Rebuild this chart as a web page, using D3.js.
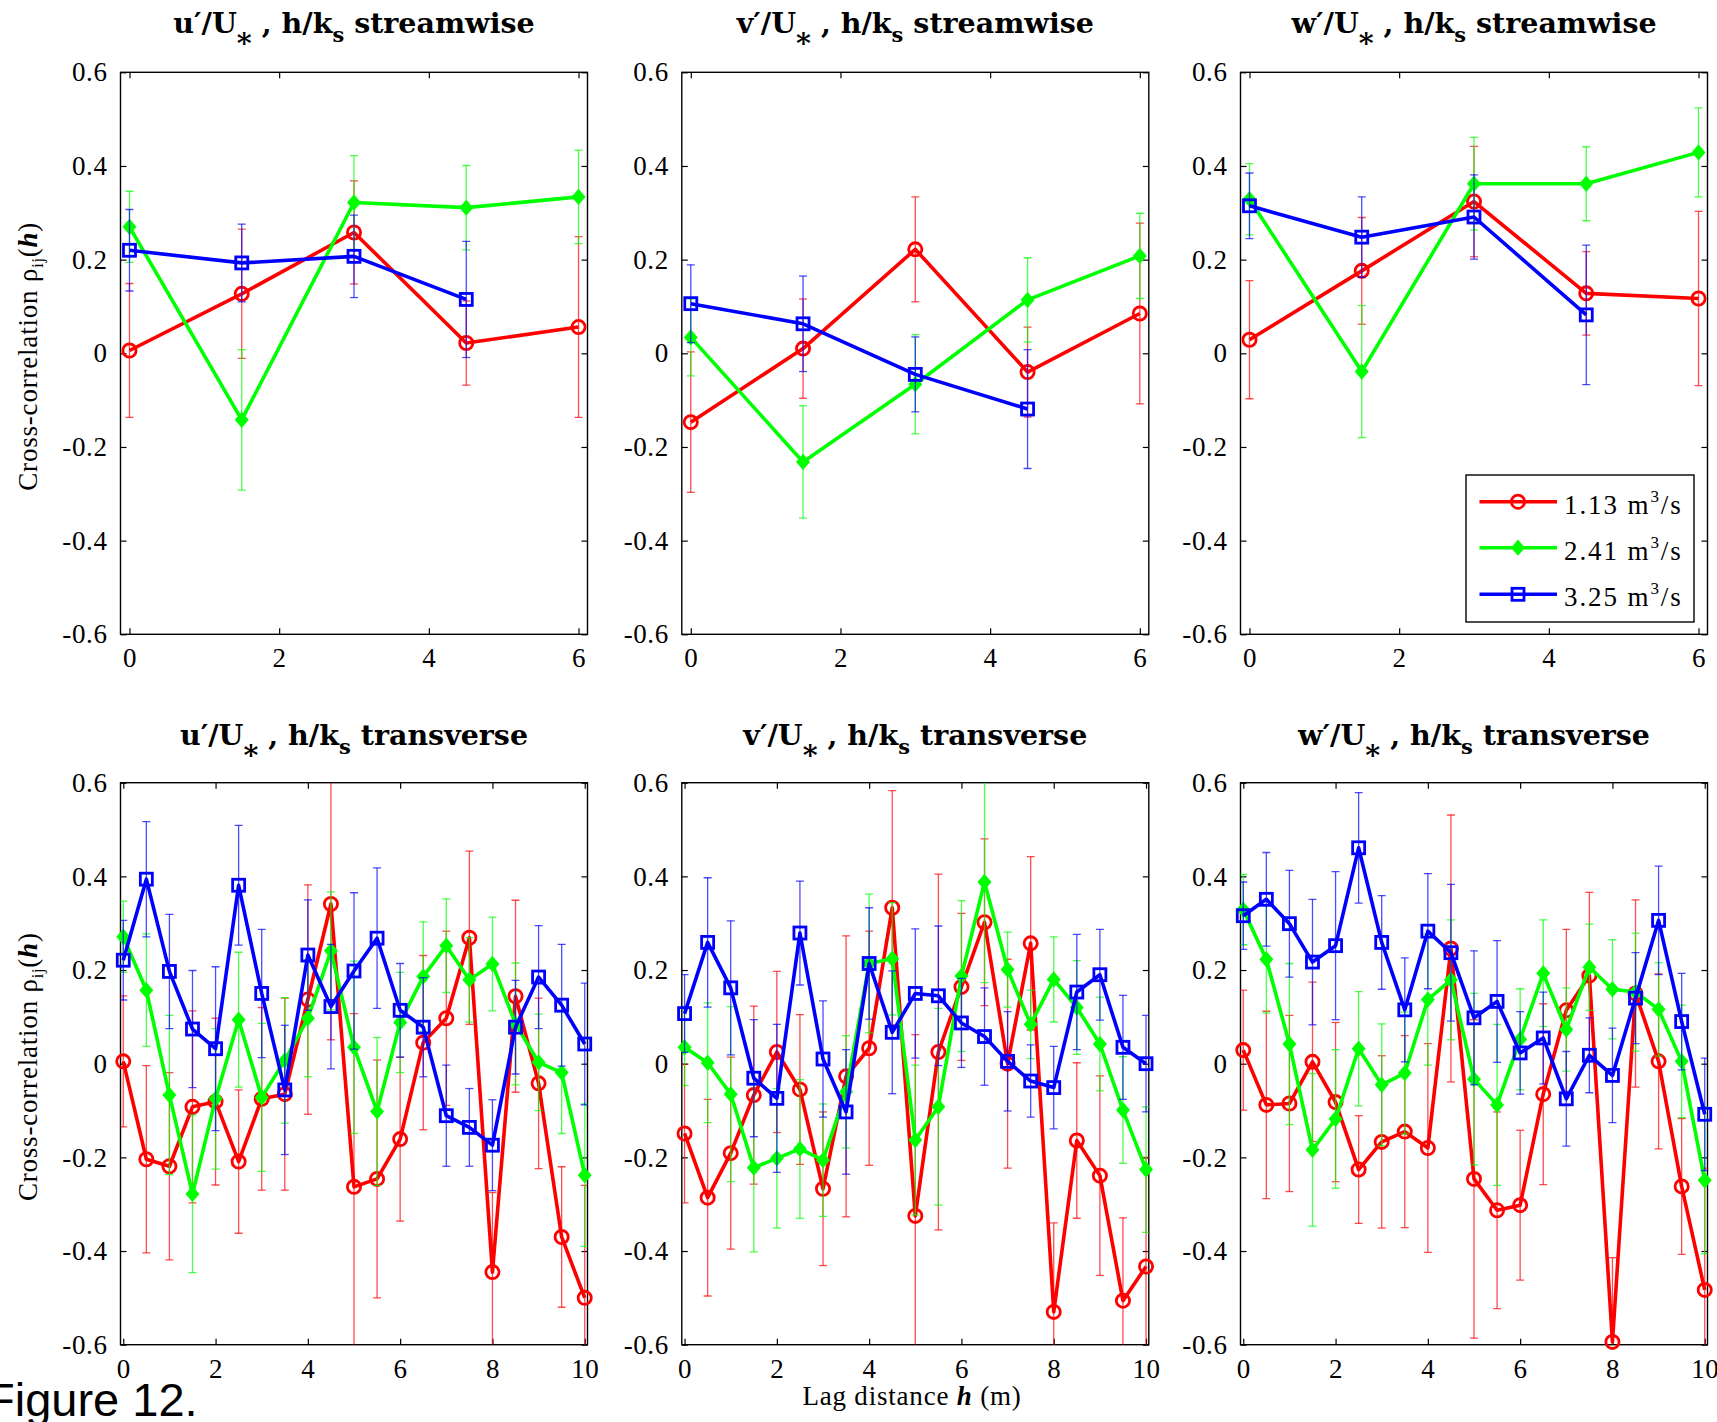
<!DOCTYPE html>
<html><head><meta charset="utf-8">
<script src="https://cdn.jsdelivr.net/npm/d3@7"></script>
<style>body{margin:0;background:#fff;} svg{display:block;}</style>
</head><body>
<svg id="chart" width="1717" height="1422"></svg>
<script>
// ---------------- DATA ----------------
const seriesNames = ["1.13", "2.41", "3.25"];
const seriesColors = ["#ff0000", "#00ff00", "#0000ff"];
const seriesMarkers = ["circle", "diamond", "square"];
const components = ["u", "v", "w"];
const directions = ["streamwise", "transverse"];

const xStream = [0, 1.5, 3, 4.5, 6];
const xTrans = [0, 0.5, 1, 1.5, 2, 2.5, 3, 3.5, 4, 4.5, 5, 5.5, 6, 6.5, 7, 7.5, 8, 8.5, 9, 9.5, 10];
const yTickValues = [-0.6, -0.4, -0.2, 0, 0.2, 0.4, 0.6];
const yTickLabels = ["-0.6", "-0.4", "-0.2", "0", "0.2", "0.4", "0.6"];
const xTicksStream = [0, 2, 4, 6];
const xTicksTrans = [0, 2, 4, 6, 8, 10];

// u' streamwise
const uStreamRed = [0.006, 0.127, 0.258, 0.022, 0.056];
const uStreamRedErr = [0.143, 0.138, 0.11, 0.09, 0.193];
const uStreamGreen = [0.270, -0.142, 0.322, 0.311, 0.334];
const uStreamGreenErr = [0.076, 0.15, 0.10, 0.09, 0.10];
const uStreamBlue = [0.220, 0.193, 0.207, 0.115];
const uStreamBlueErr = [0.087, 0.083, 0.088, 0.124];

// v' streamwise
const vStreamRed = [-0.147, 0.010, 0.222, -0.040, 0.085];
const vStreamRedErr = [0.15, 0.106, 0.112, 0.096, 0.193];
const vStreamGreen = [0.034, -0.232, -0.066, 0.114, 0.208];
const vStreamGreenErr = [0.082, 0.12, 0.106, 0.09, 0.091];
const vStreamBlue = [0.106, 0.063, -0.045, -0.119];
const vStreamBlueErr = [0.083, 0.102, 0.08, 0.127];

// w' streamwise
const wStreamRed = [0.029, 0.176, 0.324, 0.128, 0.117];
const wStreamRedErr = [0.126, 0.114, 0.118, 0.089, 0.186];
const wStreamGreen = [0.329, -0.039, 0.362, 0.362, 0.429];
const wStreamGreenErr = [0.076, 0.141, 0.099, 0.079, 0.095];
const wStreamBlue = [0.315, 0.248, 0.291, 0.082];
const wStreamBlueErr = [0.07, 0.086, 0.09, 0.149];

// u' transverse
const uTransRed = [0.005, -0.204, -0.219, -0.092, -0.081, -0.209, -0.075, -0.065, 0.137, 0.341, -0.263, -0.246, -0.161, 0.045, 0.097, 0.269, -0.445, 0.144, -0.042, -0.370, -0.500];
const uTransRedErr = [0.14, 0.2, 0.2, 0.205, 0.178, 0.153, 0.195, 0.205, 0.245, 0.29, 0.37, 0.254, 0.175, 0.186, 0.186, 0.185, 0.17, 0.205, 0.182, 0.15, 0.24];
const uTransGreen = [0.271, 0.157, -0.067, -0.278, -0.075, 0.094, -0.072, 0.007, 0.097, 0.241, 0.035, -0.102, 0.088, 0.186, 0.252, 0.179, 0.213, 0.085, 0.003, -0.019, -0.238];
const uTransGreenErr = [0.076, 0.12, 0.17, 0.168, 0.15, 0.144, 0.158, 0.134, 0.125, 0.126, 0.184, 0.158, 0.107, 0.117, 0.1, 0.09, 0.1, 0.13, 0.103, 0.13, 0.152];
const uTransBlue = [0.221, 0.394, 0.197, 0.074, 0.032, 0.381, 0.150, -0.056, 0.232, 0.122, 0.198, 0.268, 0.114, 0.078, -0.111, -0.136, -0.174, 0.078, 0.185, 0.125, 0.042];
const uTransBlueErr = [0.085, 0.123, 0.122, 0.125, 0.175, 0.128, 0.137, 0.138, 0.118, 0.133, 0.167, 0.15, 0.1, 0.106, 0.108, 0.083, 0.097, 0.10, 0.11, 0.13, 0.13];

// v' transverse
const vTransRed = [-0.149, -0.286, -0.191, -0.067, 0.025, -0.055, -0.267, -0.027, 0.033, 0.333, -0.325, 0.025, 0.164, 0.302, 0.0, 0.257, -0.530, -0.164, -0.239, -0.506, -0.433];
const vTransRedErr = [0.148, 0.21, 0.205, 0.19, 0.172, 0.16, 0.164, 0.3, 0.25, 0.25, 0.387, 0.38, 0.157, 0.178, 0.223, 0.185, 0.19, 0.166, 0.213, 0.177, 0.233];
const vTransGreen = [0.035, 0.002, -0.065, -0.222, -0.202, -0.182, -0.206, -0.060, 0.214, 0.224, -0.163, -0.092, 0.187, 0.388, 0.201, 0.084, 0.180, 0.120, 0.042, -0.099, -0.226];
const vTransGreenErr = [0.082, 0.128, 0.187, 0.18, 0.149, 0.148, 0.12, 0.12, 0.148, 0.12, 0.16, 0.21, 0.161, 0.215, 0.08, 0.073, 0.091, 0.1, 0.1, 0.114, 0.134];
const vTransBlue = [0.107, 0.259, 0.162, -0.031, -0.074, 0.279, 0.010, -0.103, 0.214, 0.067, 0.150, 0.145, 0.087, 0.058, 0.005, -0.037, -0.051, 0.153, 0.190, 0.035, 0.0];
const vTransBlueErr = [0.083, 0.138, 0.143, 0.125, 0.158, 0.111, 0.124, 0.133, 0.119, 0.131, 0.138, 0.149, 0.095, 0.104, 0.106, 0.077, 0.088, 0.123, 0.097, 0.111, 0.103];

// w' transverse
const wTransRed = [0.029, -0.088, -0.085, 0.004, -0.082, -0.226, -0.167, -0.145, -0.180, 0.246, -0.246, -0.313, -0.302, -0.065, 0.114, 0.188, -0.594, 0.150, 0.005, -0.262, -0.483];
const wTransRedErr = [0.128, 0.2, 0.188, 0.17, 0.17, 0.115, 0.184, 0.205, 0.223, 0.285, 0.34, 0.21, 0.16, 0.193, 0.173, 0.178, 0.18, 0.2, 0.187, 0.145, 0.26];
const wTransGreen = [0.329, 0.223, 0.042, -0.184, -0.118, 0.032, -0.045, -0.020, 0.137, 0.179, -0.033, -0.088, 0.052, 0.193, 0.073, 0.206, 0.159, 0.153, 0.116, 0.005, -0.249];
const wTransGreenErr = [0.075, 0.115, 0.172, 0.163, 0.148, 0.122, 0.13, 0.13, 0.14, 0.128, 0.183, 0.172, 0.108, 0.114, 0.089, 0.092, 0.106, 0.126, 0.1, 0.12, 0.157];
const wTransBlue = [0.316, 0.351, 0.299, 0.217, 0.252, 0.461, 0.259, 0.115, 0.283, 0.237, 0.098, 0.133, 0.023, 0.055, -0.075, 0.018, -0.025, 0.140, 0.306, 0.090, -0.108];
const wTransBlueErr = [0.072, 0.1, 0.114, 0.134, 0.158, 0.118, 0.1, 0.111, 0.123, 0.146, 0.143, 0.13, 0.088, 0.098, 0.101, 0.08, 0.101, 0.097, 0.116, 0.103, 0.12];

// --------------- PANELS ---------------
const panels = [
  {comp: 0, dir: 0, x: xStream, xt: xTicksStream, dom: [-0.12, 6.12], s: [[uStreamRed, uStreamRedErr], [uStreamGreen, uStreamGreenErr], [uStreamBlue, uStreamBlueErr]]},
  {comp: 1, dir: 0, x: xStream, xt: xTicksStream, dom: [-0.12, 6.12], s: [[vStreamRed, vStreamRedErr], [vStreamGreen, vStreamGreenErr], [vStreamBlue, vStreamBlueErr]]},
  {comp: 2, dir: 0, x: xStream, xt: xTicksStream, dom: [-0.12, 6.12], s: [[wStreamRed, wStreamRedErr], [wStreamGreen, wStreamGreenErr], [wStreamBlue, wStreamBlueErr]], legend: true},
  {comp: 0, dir: 1, x: xTrans, xt: xTicksTrans, dom: [-0.06, 10.06], s: [[uTransRed, uTransRedErr], [uTransGreen, uTransGreenErr], [uTransBlue, uTransBlueErr]]},
  {comp: 1, dir: 1, x: xTrans, xt: xTicksTrans, dom: [-0.06, 10.06], s: [[vTransRed, vTransRedErr], [vTransGreen, vTransGreenErr], [vTransBlue, vTransBlueErr]]},
  {comp: 2, dir: 1, x: xTrans, xt: xTicksTrans, dom: [-0.06, 10.06], s: [[wTransRed, wTransRedErr], [wTransGreen, wTransGreenErr], [wTransBlue, wTransBlueErr]]}
];

const colLeft = [120.5, 681.8, 1240.5];
const rowTop = [72.3, 782.7];
const PW = 467, PH = 562;
const serif = "Liberation Serif, Times New Roman, serif";
const titleFont = "DejaVu Serif, serif";

const svg = d3.select("#chart");
svg.append("rect").attr("width", 1717).attr("height", 1422).attr("fill", "#fff");

function drawMarker(g, type, color, cx, cy) {
  if (type === "circle") {
    g.append("circle").attr("cx", cx).attr("cy", cy).attr("r", 6.6)
      .attr("fill", "none").attr("stroke", color).attr("stroke-width", 2.8);
  } else if (type === "diamond") {
    g.append("path").attr("d", `M${cx},${cy - 7}L${cx + 6},${cy}L${cx},${cy + 7}L${cx - 6},${cy}Z`)
      .attr("fill", color).attr("stroke", color).attr("stroke-width", 1.5);
  } else {
    g.append("rect").attr("x", cx - 6).attr("y", cy - 6).attr("width", 12).attr("height", 12)
      .attr("fill", "none").attr("stroke", color).attr("stroke-width", 2.8);
  }
}

panels.forEach((p, i) => {
  const col = i % 3, row = Math.floor(i / 3);
  const g = svg.append("g").attr("transform", `translate(${colLeft[col]},${rowTop[row]})`);
  const x = d3.scaleLinear().domain(p.dom).range([0, PW]);
  const y = d3.scaleLinear().domain([-0.6, 0.6]).range([PH, 0]);
  const clipId = "clip" + i;
  g.append("clipPath").attr("id", clipId).append("rect").attr("width", PW).attr("height", PH);

  // Axes with inward ticks on all sides
  const tl = 6;
  g.append("g").attr("transform", `translate(0,${PH})`)
    .call(d3.axisBottom(x).tickValues(p.xt).tickSize(-tl).tickPadding(tl + 8).tickFormat(d3.format("d")))
    .call(a => a.select(".domain").remove());
  g.append("g")
    .call(d3.axisTop(x).tickValues(p.xt).tickSize(-tl).tickFormat(""))
    .call(a => a.select(".domain").remove());
  g.append("g")
    .call(d3.axisLeft(y).tickValues(yTickValues).tickSize(-tl).tickPadding(tl + 7)
      .tickFormat((d, k) => yTickLabels[k]))
    .call(a => a.select(".domain").remove());
  g.append("g").attr("transform", `translate(${PW},0)`)
    .call(d3.axisRight(y).tickValues(yTickValues).tickSize(-tl).tickFormat(""))
    .call(a => a.select(".domain").remove());
  g.selectAll("g").attr("font-family", serif).attr("font-size", 27);
  g.selectAll(".tick line").attr("stroke", "#000").attr("stroke-width", 1.2);
  g.selectAll(".tick text").attr("font-family", serif).attr("font-size", 27)
    .attr("letter-spacing", 0.6).attr("fill", "#000");
  g.append("rect").attr("width", PW).attr("height", PH).attr("fill", "none")
    .attr("stroke", "#000").attr("stroke-width", 1.4);

  // Series
  p.s.forEach((ser, si) => {
    const vals = ser[0], errs = ser[1];
    const color = seriesColors[si];
    const pts = vals.map((v, k) => ({x: p.x[k], v: v, e: errs[k]}));
    const eg = g.append("g").attr("clip-path", `url(#${clipId})`)
      .attr("stroke", color).attr("stroke-width", 1.3).attr("stroke-opacity", 0.7);
    pts.forEach(d => {
      const cx = x(d.x), y1 = y(d.v - d.e), y2 = y(d.v + d.e);
      eg.append("line").attr("x1", cx).attr("x2", cx).attr("y1", y1).attr("y2", y2);
      eg.append("line").attr("x1", cx - 4).attr("x2", cx + 4).attr("y1", y1).attr("y2", y1);
      eg.append("line").attr("x1", cx - 4).attr("x2", cx + 4).attr("y1", y2).attr("y2", y2);
    });
    g.append("path").datum(pts).attr("clip-path", `url(#${clipId})`)
      .attr("d", d3.line().x(d => x(d.x)).y(d => y(d.v)))
      .attr("fill", "none").attr("stroke", color).attr("stroke-width", 3.6).attr("stroke-linejoin", "round");
    const mg = g.append("g");
    pts.forEach(d => drawMarker(mg, seriesMarkers[si], color, x(d.x), y(d.v)));
  });

  // Title
  const t = g.append("text").attr("x", PW / 2).attr("y", row === 0 ? -39 : -38)
    .attr("text-anchor", "middle").attr("font-family", titleFont).attr("font-weight", "bold")
    .attr("font-size", 28.5).attr("fill", "#000");
  t.append("tspan").text(components[p.comp] + "\u2032/U");
  t.append("tspan").attr("dy", 20).text("*");
  t.append("tspan").attr("dy", -20).text(" , h/k");
  t.append("tspan").attr("dy", 9).attr("font-size", 21).text("s");
  t.append("tspan").attr("dy", -9).text(" " + directions[p.dir]);

  // Y label on left column
  if (col === 0) {
    const yl = svg.append("text")
      .attr("transform", `translate(37,${rowTop[row] + PH / 2 + 3}) rotate(-90)`)
      .attr("text-anchor", "middle").attr("font-family", serif).attr("font-size", 27)
      .attr("letter-spacing", 0.8).attr("fill", "#000");
    yl.append("tspan").text("Cross-correlation \u03C1");
    yl.append("tspan").attr("font-size", 16).attr("dy", 6).text("ij");
    yl.append("tspan").attr("dy", -6).text("(");
    yl.append("tspan").attr("font-weight", "bold").attr("font-style", "italic").text("h");
    yl.append("tspan").text(")");
  }

  // Legend
  if (p.legend) {
    const lg = g.append("g").attr("transform", "translate(225.5,402.7)");
    lg.append("rect").attr("width", 228).attr("height", 147).attr("fill", "#fff")
      .attr("stroke", "#000").attr("stroke-width", 1.4);
    const rowsY = [26.7, 72.7, 119.3];
    seriesNames.forEach((nm, si) => {
      const ry = rowsY[si];
      lg.append("line").attr("x1", 13.5).attr("x2", 91).attr("y1", ry).attr("y2", ry)
        .attr("stroke", seriesColors[si]).attr("stroke-width", 3.6);
      drawMarker(lg, seriesMarkers[si], seriesColors[si], 52, ry);
      const lt = lg.append("text").attr("x", 98).attr("y", ry + 12)
        .attr("font-family", serif).attr("font-size", 27).attr("letter-spacing", 1.9).attr("fill", "#000");
      lt.append("tspan").text(nm + " m");
      lt.append("tspan").attr("font-size", 17).attr("dy", -12).text("3");
      lt.append("tspan").attr("dy", 12).text("/s");
    });
  }
});

// X label
const xl = svg.append("text").attr("x", 912).attr("y", 1405).attr("text-anchor", "middle")
  .attr("font-family", serif).attr("font-size", 27).attr("letter-spacing", 0.8).attr("fill", "#000");
xl.append("tspan").text("Lag distance ");
xl.append("tspan").attr("font-weight", "bold").attr("font-style", "italic").text("h");
xl.append("tspan").text(" (m)");

// Figure caption
svg.append("text").attr("x", -14).attr("y", 1416)
  .attr("font-family", "Liberation Sans, Arial, sans-serif").attr("font-size", 47)
  .attr("fill", "#000").text("Figure 12.");
</script>
</body></html>
